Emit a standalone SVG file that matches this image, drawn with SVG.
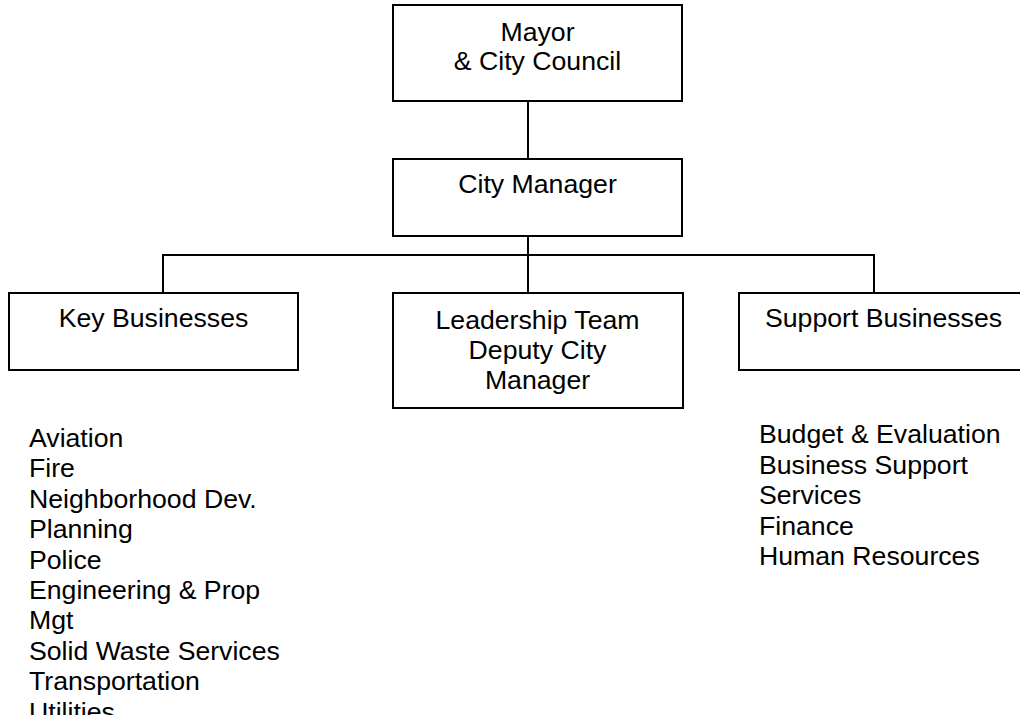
<svg xmlns="http://www.w3.org/2000/svg" width="1020" height="715" viewBox="0 0 1020 715">
  <style>
    .box { fill: #ffffff; stroke: #000000; stroke-width: 2; }
    .wire { fill: none; stroke: #000000; stroke-width: 2; }
    text { font-family: "Liberation Sans", Arial, sans-serif; font-size: 26.67px; fill: #000000; }
    .c { text-anchor: middle; }
  </style>
  <rect width="1020" height="715" fill="#ffffff"/>

  <g id="connectors">
    <line class="wire" x1="528" y1="101" x2="528" y2="159"/>
    <line class="wire" x1="528" y1="236" x2="528" y2="293"/>
    <polyline class="wire" points="163,293 163,255 874,255 874,293"/>
  </g>

  <g id="mayor-council">
    <rect class="box" x="393" y="5" width="289" height="96"/>
    <text class="c" x="537.5" y="41">Mayor</text>
    <text class="c" x="537.5" y="70">&amp; City Council</text>
  </g>

  <g id="city-manager">
    <rect class="box" x="393" y="159" width="289" height="77"/>
    <text class="c" x="537.5" y="193">City Manager</text>
  </g>

  <g id="key-businesses">
    <rect class="box" x="9" y="293" width="289" height="77"/>
    <text class="c" x="153.5" y="327">Key Businesses</text>
  </g>

  <g id="leadership-team">
    <rect class="box" x="393" y="293" width="290" height="115"/>
    <text class="c" x="537.5" y="329">Leadership Team</text>
    <text class="c" x="537.5" y="359">Deputy City</text>
    <text class="c" x="537.5" y="389">Manager</text>
  </g>

  <g id="support-businesses">
    <rect class="box" x="739" y="293" width="289" height="77"/>
    <text class="c" x="883.5" y="327">Support Businesses</text>
  </g>

  <g id="key-list">
    <text x="29" y="447">Aviation</text>
    <text x="29" y="477.4">Fire</text>
    <text x="29" y="507.8">Neighborhood Dev.</text>
    <text x="29" y="538.2">Planning</text>
    <text x="29" y="568.6">Police</text>
    <text x="29" y="599">Engineering &amp; Prop</text>
    <text x="29" y="629.4">Mgt</text>
    <text x="29" y="659.8">Solid Waste Services</text>
    <text x="29" y="690.2">Transportation</text>
    <text x="29" y="720.6">Utilities</text>
  </g>

  <g id="support-list">
    <text x="759" y="443">Budget &amp; Evaluation</text>
    <text x="759" y="473.5">Business Support</text>
    <text x="759" y="504">Services</text>
    <text x="759" y="534.5">Finance</text>
    <text x="759" y="565">Human Resources</text>
  </g>
</svg>
